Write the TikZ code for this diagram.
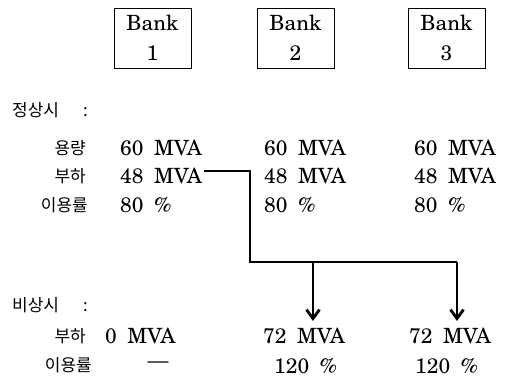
\documentclass[tikz,border=0pt]{standalone}
\usepackage{fontspec}
\setmainfont{TeX Gyre Schola}
\newfontfamily\krfont{Noto Sans CJK KR}
\usetikzlibrary{arrows.meta}
\begin{document}
\begin{tikzpicture}[x=1pt, y=-1pt, >={Straight Barb[length=9pt,width=13pt]},
        bank/.style = {draw, thin, align=center, minimum width=77pt, minimum height=60pt, inner sep=0pt, font=\fontsize{21}{30}\selectfont},
        val/.style = {anchor=west, inner sep=2pt, font=\fontsize{21}{24}\selectfont},
        lab/.style = {anchor=east, inner sep=0pt, font=\krfont\fontsize{17}{18}\selectfont},
        head/.style = {anchor=west, inner sep=0pt, font=\krfont\fontsize{17}{18}\selectfont},
        flow/.style = {line width=2.8pt}]
        \useasboundingbox (0,0) rectangle (511,377);

        \foreach \i/\x in {1/152.5,2/295.5,3/446.5}{
            \node[bank] (bank\i) at (\x,38) {Bank\\\i};
        }

        % normal operation
        \node[head] (normal) at (12,110) {정상시\hspace{24pt}:};
        \node[lab] (capl) at (86,148) {용량};
        \node[lab] (loadl) at (86,176) {부하};
        \node[lab] (usel) at (88,205) {이용률};

        \foreach \i/\x in {1/118,2/262,3/412}{
            \node[val] (cap\i) at (\x,148) {60\enspace MVA};
            \node[val] (load\i) at (\x,176) {48\enspace MVA};
            \node[val] (use\i) at (\x,205) {80\enspace \%};
        }

        % emergency
        \node[head] (emerg) at (12,305) {비상시\hspace{24pt}:};
        \node[lab] (emloadl) at (86,336) {부하};
        \node[lab] (emusel) at (92,365) {이용률};

        \node[val] (emload1) at (103,336) {0\enspace MVA};
        \node[val] (emload2) at (261,336) {72\enspace MVA};
        \node[val] (emload3) at (407,336) {72\enspace MVA};
        \node[val, anchor=center] (emuse1) at (158,365) {---};
        \node[val] (emuse2) at (272,366) {120\enspace \%};
        \node[val] (emuse3) at (413,366) {120\enspace \%};

        \coordinate (bend) at (250,262);
        \coordinate (split2) at (313,262);
        \coordinate (split3) at (457,262);
        \coordinate (tip2) at (313,321);
        \coordinate (tip3) at (457,321);

        \draw[flow] ([yshift=5pt]load1.east) -| (bend) -- (split3);
        \draw[flow, ->] (split2) -- (tip2);
        \draw[flow, ->] (split3) -- (tip3);
    \end{tikzpicture}
\end{document}
